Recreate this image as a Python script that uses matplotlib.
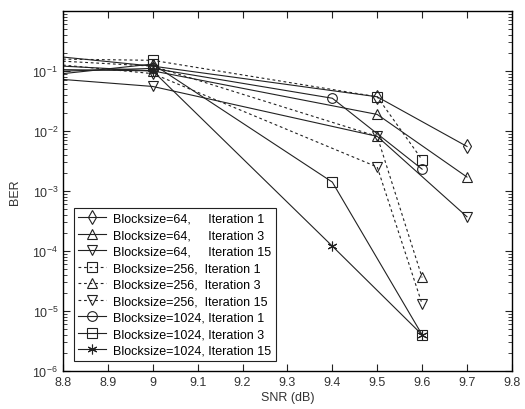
import numpy as np
import matplotlib.pyplot as plt

plt.rcParams['font.family'] = ['Liberation Sans', 'DejaVu Sans']
plt.rcParams['mathtext.fontset'] = 'custom'
plt.rcParams['mathtext.rm'] = 'Liberation Sans'

# SNR points per series
snr_64 = [8.8, 9.0, 9.5, 9.7]
snr_256 = [8.8, 9.0, 9.5, 9.6]
snr_1024 = [8.8, 9.0, 9.4, 9.6]

# BER values
ber_64_it1 = [0.17, 0.12, 0.037, 0.0055]
ber_64_it3 = [0.12, 0.10, 0.0188, 0.0017]
ber_64_it15 = [0.072, 0.055, 0.0081, 3.7e-4]
ber_256_it1 = [0.157, 0.15, 0.037, 0.0033]
ber_256_it3 = [0.145, 0.12, 0.0081, 3.6e-5]
ber_256_it15 = [0.125, 0.09, 0.0025, 1.3e-5]
ber_1024_it1 = [0.099, 0.11, 0.035, 0.0023]
ber_1024_it3 = [0.09, 0.13, 0.0014, 4.0e-6]
ber_1024_it15 = [0.105, 0.10, 1.2e-4, 4.0e-6]

labels = ["Blocksize=64,     Iteration 1",
          "Blocksize=64,     Iteration 3",
          "Blocksize=64,     Iteration 15",
          "Blocksize=256,  Iteration 1",
          "Blocksize=256,  Iteration 3",
          "Blocksize=256,  Iteration 15",
          "Blocksize=1024, Iteration 1",
          "Blocksize=1024, Iteration 3",
          "Blocksize=1024, Iteration 15"]

fig = plt.figure(figsize=(5.25, 4.1), dpi=100)
ax = fig.add_axes([0.12, 0.093, 0.855, 0.878])

dash = (0, (2.5, 2.5))
series = [
    (snr_64, ber_64_it1, 'd', '-'),
    (snr_64, ber_64_it3, '^', '-'),
    (snr_64, ber_64_it15, 'v', '-'),
    (snr_256, ber_256_it1, 's', dash),
    (snr_256, ber_256_it3, '^', dash),
    (snr_256, ber_256_it15, 'v', dash),
    (snr_1024, ber_1024_it1, 'o', '-'),
    (snr_1024, ber_1024_it3, 's', '-'),
    (snr_1024, ber_1024_it15, (6, 2, 0), '-'),
]
for (x, y, m, ls), lab in zip(series, labels):
    ax.semilogy(x, y, color='#222222', linestyle=ls, linewidth=0.8,
                marker=m, markevery=[1, 2, 3], markersize=7,
                markerfacecolor='none', markeredgecolor='#222222',
                markeredgewidth=0.8, label=lab)

ax.set_xlim(8.8, 9.8)
ax.set_ylim(1e-6, 1)
ax.set_xticks(np.arange(8.8, 9.81, 0.1))
ax.set_xticklabels(["8.8", "8.9", "9", "9.1", "9.2", "9.3", "9.4", "9.5",
                    "9.6", "9.7", "9.8"])
ax.set_yticks([1e-6, 1e-5, 1e-4, 1e-3, 1e-2, 1e-1])
ax.tick_params(which='both', direction='in', top=True, right=True,
               labelsize=9, colors='#222222', labelcolor='#333333')
ax.tick_params(which='major', length=5)
ax.tick_params(which='minor', length=3)
for s in ax.spines.values():
    s.set_linewidth(1.0)

ax.set_xlabel("SNR (dB)", fontsize=9, color='#333333', labelpad=2)
ax.set_ylabel("BER", fontsize=9, color='#333333', labelpad=8)

leg = ax.legend(loc='lower left', bbox_to_anchor=(0.01, 0.01), fontsize=9,
                handlelength=2.2, handletextpad=0.6, borderpad=0.35,
                labelspacing=0.36, fancybox=False, framealpha=1,
                edgecolor='#222222')
leg.get_frame().set_linewidth(0.8)

fig.savefig("out.png", dpi=100)
